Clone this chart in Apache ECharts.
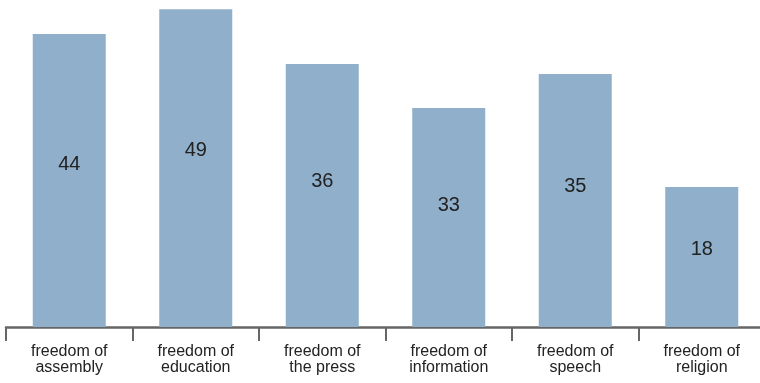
<!DOCTYPE html>
<html>
<head>
<meta charset="utf-8">
<script src="https://cdn.jsdelivr.net/npm/echarts@6/dist/echarts.min.js"></script>
<style>
html,body{margin:0;padding:0;background:#fff;overflow:hidden;width:760px;height:383px;}
#chart{width:800px;height:383px;}
</style>
</head>
<body>
<div id="chart"></div>
<script>
const categories = ["freedom of\nassembly", "freedom of\neducation", "freedom of\nthe press", "freedom of\ninformation", "freedom of\nspeech", "freedom of\nreligion"];
const barHeights = [89.6, 97.2, 80.4, 67.0, 77.4, 42.8];
const labelValues = [44, 49, 36, 33, 35, 18];

const chart = echarts.init(document.getElementById('chart'), null, {renderer: 'canvas'});
chart.setOption({
  animation: false,
  backgroundColor: '#ffffff',
  grid: {left: 6, top: 0, width: 759, height: 327, containLabel: false},
  xAxis: {
    type: 'category',
    data: categories,
    boundaryGap: true,
    axisLine: {show: true, lineStyle: {color: '#666666', width: 2.5}},
    axisTick: {show: true, alignWithLabel: false, length: 14, lineStyle: {color: '#666666', width: 2}},
    axisLabel: {
      interval: 0, margin: 17, fontFamily: 'Liberation Sans, Arial, sans-serif',
      fontSize: 16, lineHeight: 16, color: '#222222'
    }
  },
  yAxis: {
    type: 'value', min: 0, max: 100, show: false,
    splitLine: {show: false}
  },
  series: [{
    type: 'bar',
    data: barHeights,
    barWidth: 73,
    itemStyle: {color: '#8FAFCA'},
    label: {
      show: true,
      position: ['50%', '44.5%'],
      align: 'center',
      verticalAlign: 'middle',
      fontFamily: 'Liberation Sans, Arial, sans-serif',
      fontSize: 20,
      color: '#222222',
      formatter: p => String(labelValues[p.dataIndex])
    }
  }]
});
</script>
</body>
</html>
